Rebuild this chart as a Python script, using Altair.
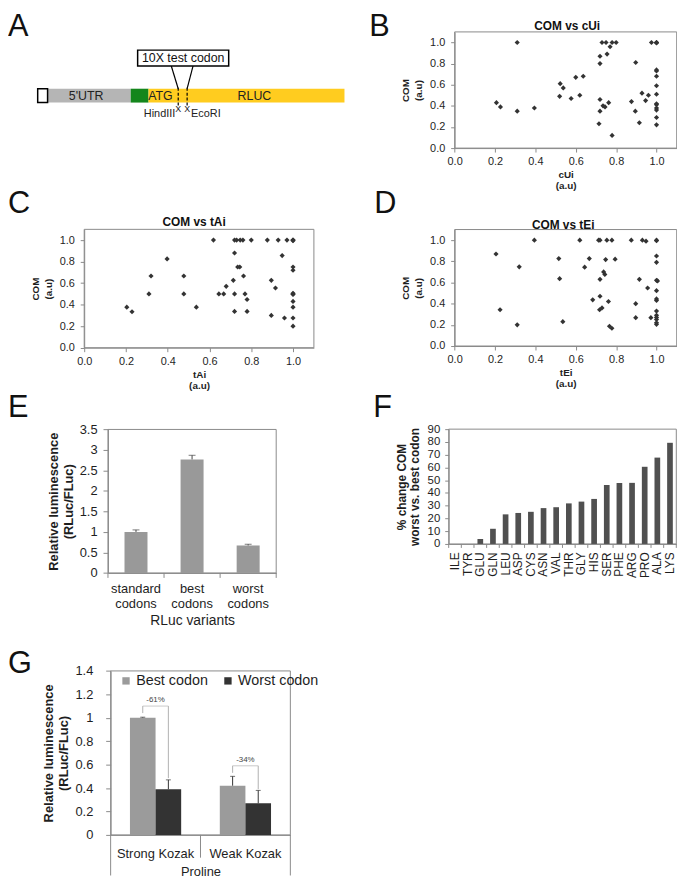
import altair as alt
import pandas as pd

FONT = "Liberation Sans"
INK = "#1e1e1e"
AX = "#8a8a8a"

# ===================== DATA =====================
# --- A: reporter construct schematic (units along the construct) ---
seg_names = ["promoter", "5'UTR", "Kozak", "RLUC"]
seg_start = [0, 10, 94, 112]
seg_end = [10, 94, 112, 310]
seg_labels = ["5'UTR", "ATG", "RLUC"]
seg_label_at = [49, 124, 219]
insert_label = ["10X test codon"]
insert_span = [101, 193]
insert_link_from = [135, 157]
site_names = ["HindIII", "EcoRI"]
site_at = [142, 151]

# --- B: COM vs cUi ---
cui = [0.31, 0.73, 0.75, 0.78, 0.80, 0.77, 0.72, 0.755, 0.72, 0.975, 1.0, 1.0,
       1.0, 0.897, 1.0, 1.0, 1.0, 1.0, 1.0, 1.0, 1.0, 1.0, 1.0, 1.0, 1.0,
       0.60, 0.637, 0.523, 0.538, 0.52, 0.577, 0.62, 0.207, 0.227, 0.31, 0.395,
       0.72, 0.763, 0.735, 0.745, 0.72, 0.715, 0.78, 0.876, 0.895, 0.928, 0.946,
       0.96, 0.915]
com_cui = [1.0, 1.0, 1.0, 1.0, 1.0, 0.96, 0.87, 0.89, 0.80, 1.0, 1.0, 1.0,
           0.995, 0.81, 0.74, 0.73, 0.68, 0.59, 0.51, 0.42, 0.41, 0.38, 0.36, 0.29, 0.22,
           0.67, 0.68, 0.61, 0.57, 0.49, 0.47, 0.50, 0.43, 0.39, 0.35, 0.38,
           0.46, 0.43, 0.40, 0.39, 0.35, 0.23, 0.12, 0.44, 0.35, 0.52, 0.45,
           0.50, 0.24]

# --- C: COM vs tAi ---
tai = [0.204, 0.229, 0.31, 0.32, 0.397, 0.477, 0.477, 0.537, 0.619, 0.645,
       0.668, 0.68, 0.72, 0.73, 0.747, 0.76, 0.80, 0.877, 0.929, 0.971,
       1.0, 1.0, 1.0, 0.72, 0.735, 0.745, 0.714, 0.763, 0.72, 0.77,
       0.78, 0.72, 0.78, 0.896, 0.916, 0.896, 0.948, 0.959, 1.0, 1.0,
       1.0, 1.0, 1.0, 1.0, 1.0, 1.0, 1.0]
com_tai = [0.377, 0.334, 0.5, 0.666, 0.825, 0.666, 0.5, 0.377, 1.0, 0.5,
           0.5, 0.57, 1.0, 1.0, 1.0, 1.0, 1.0, 1.0, 1.0, 1.0,
           1.0, 1.0, 0.995, 0.88, 0.75, 0.75, 0.626, 0.666, 0.5, 0.5,
           0.448, 0.337, 0.337, 0.626, 0.555, 0.30, 0.856, 0.276, 0.75, 0.72,
           0.5, 0.495, 0.43, 0.377, 0.276, 0.2, 0.505]

# --- D: COM vs tEi ---
tei = [0.205, 0.225, 0.32, 0.31, 0.395, 0.516, 0.52, 0.536, 0.62, 0.644,
       0.667, 0.684, 0.713, 0.72, 0.754, 0.779, 0.72, 0.72, 0.718, 0.73,
       0.738, 0.744, 0.748, 0.762, 0.767, 0.779, 0.795, 0.875, 0.93, 0.948,
       0.915, 0.897, 0.897, 0.956, 0.972, 1.0, 1.0, 1.0, 1.0, 1.0,
       1.005, 1.0, 1.0, 1.0, 1.0, 1.0, 1.0, 1.0, 1.0, 1.0]
com_tei = [0.869, 0.343, 0.748, 0.20, 1.0, 0.826, 0.636, 0.23, 1.0, 0.745,
           0.826, 0.436, 1.0, 1.0, 1.0, 1.0, 0.63, 0.47, 0.343, 0.36,
           0.70, 0.676, 0.816, 0.42, 0.187, 0.168, 0.82, 1.0, 1.0, 0.99,
           0.63, 0.40, 0.268, 0.548, 0.268, 1.0, 0.995, 0.85, 0.79, 0.62,
           0.615, 0.523, 0.445, 0.43, 0.33, 0.29, 0.27, 0.25, 0.22, 0.205]

# --- E: RLuc variants ---
variants = ["standard codons", "best codons", "worst codons"]
lum = [1.0, 2.77, 0.67]
lum_err = [0.05, 0.10, 0.03]

# --- F: % change COM worst vs best codon ---
amino_acids = ["ILE", "TYR", "GLU", "GLN", "LEU", "ASP", "CYS", "ASN", "VAL",
               "THR", "GLY", "HIS", "SER", "PHE", "ARG", "PRO", "ALA", "LYS"]
pct_change = [0, 0, 3.9, 11.9, 23.2, 24.3, 25.2, 28.1, 28.8,
              31.8, 33.2, 35.3, 46.2, 47.8, 47.9, 60.5, 67.7, 79.3]

# --- G: Proline, Kozak context ---
kozak = ["Strong Kozak", "Weak Kozak"]
codon_sets = ["Best codon", "Worst codon"]
best_mean = [1.0, 0.42]
best_err = [0.005, 0.08]
worst_mean = [0.39, 0.27]
worst_err = [0.08, 0.11]
change_labels = ["-61%", "-34%"]
bracket_top = [1.10, 0.59]
bracket_best_foot = [1.04, 0.53]
bracket_worst_foot = [0.485, 0.39]

# ===================== LAYOUT =====================
W, H = 676, 872


def c(v):  # page pixel -> chart pixel (8px page margin)
    return v - 8.0


BOX = {  # left, right, top, bottom (chart px)
    "B": (c(459.3), c(683.7), c(27.6), c(145.0)),
    "C": (c(85.0), c(317.1), c(227.1), c(346.7)),
    "D": (c(459.3), c(683.7), c(227.3), c(345.0)),
    "E": (c(109.0), c(279.0), c(429.3), c(574.3)),
    "F": (c(453.3), c(683.3), c(429.0), c(545.0)),
    "G": (c(111.7), c(293.3), c(673.3), c(839.0)),
}
DIAG = dict(xdom=[0, 310], xr=[c(38), c(348)], ydom=[0, 80], yr=[c(118), c(38)],
            bar=(19, 33), box=(56, 72), site_line=(16, 35), site_mark=12,
            site_name=7.5, label_y=26)
LETTERS = [("A", 0, 24), ("B", 365, 24), ("C", 0, 203), ("D", 370, 203),
           ("E", 0, 409), ("F", 369, 409), ("G", 0, 667)]
TITLES = [("COM vs cUi", 565, BOX["B"][2] - 1.5),
          ("COM vs tAi", 188, BOX["C"][2] - 3),
          ("COM vs tEi", 561, BOX["D"][2] - 1)]

ONE = pd.DataFrame({"k": [0]})


def xaxis(key, **kw):
    return alt.Axis(orient="bottom", offset=-(H - BOX[key][3]), **kw)


def yaxis(key, **kw):
    return alt.Axis(orient="left", offset=-BOX[key][0], **kw)


def frame(key):
    x0, x1, y0, y1 = BOX[key]
    return alt.Chart(ONE).mark_rect(fillOpacity=0, stroke=AX, strokeWidth=1).encode(
        x=alt.value(x0), x2=alt.value(x1), y=alt.value(y0), y2=alt.value(y1))


# ===================== PANEL A =====================
dx = alt.Scale(domain=DIAG["xdom"], range=DIAG["xr"], nice=False, zero=False)
dy = alt.Scale(domain=DIAG["ydom"], range=DIAG["yr"], nice=False, zero=False)
seg_df = pd.DataFrame({"name": seg_names, "s": seg_start, "e": seg_end})
seg_df["lo"], seg_df["hi"] = DIAG["bar"]
segs = alt.Chart(seg_df).mark_rect().encode(
    x=alt.X("s:Q", scale=dx, axis=None), x2="e:Q",
    y=alt.Y("lo:Q", scale=dy, axis=None), y2="hi:Q",
    color=alt.Color("name:N", scale=alt.Scale(domain=seg_names,
                    range=["#ffffff", "#b5b5b5", "#14861c", "#ffcc1f"]), legend=None))
prom = alt.Chart(seg_df).transform_filter("datum.name == 'promoter'").mark_rect(
    fillOpacity=0, stroke="black", strokeWidth=1.5).encode(
    x=alt.X("s:Q", scale=dx, axis=None), x2="e:Q",
    y=alt.Y("lo:Q", scale=dy, axis=None), y2="hi:Q")
lab_df = pd.DataFrame({"t": seg_labels, "x": seg_label_at})
lab_df["y"] = DIAG["label_y"]
seg_text = alt.Chart(lab_df).mark_text(fontSize=12.5, color="#222").encode(
    x=alt.X("x:Q", scale=dx, axis=None), y=alt.Y("y:Q", scale=dy, axis=None), text="t:N")
ins_df = pd.DataFrame({"t": insert_label, "s": [insert_span[0]], "e": [insert_span[1]]})
ins_df["lo"], ins_df["hi"] = DIAG["box"]
ins_df["mid"] = (ins_df.s + ins_df.e) / 2
ins_df["ym"] = sum(DIAG["box"]) / 2
ins_box = alt.Chart(ins_df).mark_rect(fill="white", stroke="black", strokeWidth=1.5).encode(
    x=alt.X("s:Q", scale=dx, axis=None), x2="e:Q",
    y=alt.Y("lo:Q", scale=dy, axis=None), y2="hi:Q")
ins_text = alt.Chart(ins_df).mark_text(fontSize=12.5, color="#111").encode(
    x=alt.X("mid:Q", scale=dx, axis=None), y=alt.Y("ym:Q", scale=dy, axis=None), text="t:N")
link_df = pd.DataFrame({"x": insert_link_from, "x2": site_at})
link_df["y"] = DIAG["box"][0]
link_df["y2"] = DIAG["bar"][1]
links = alt.Chart(link_df).mark_rule(color="black", strokeWidth=1.2).encode(
    x=alt.X("x:Q", scale=dx, axis=None), x2="x2:Q",
    y=alt.Y("y:Q", scale=dy, axis=None), y2="y2:Q")
site_df = pd.DataFrame({"name": site_names, "x": site_at})
site_df["lo"], site_df["hi"] = DIAG["site_line"]
site_df["ym"] = DIAG["site_mark"]
site_df["yn"] = DIAG["site_name"]
site_df["mark"] = "X"
site_lines = alt.Chart(site_df).mark_rule(color="black", strokeWidth=1.2, strokeDash=[3, 2]).encode(
    x=alt.X("x:Q", scale=dx, axis=None), y=alt.Y("lo:Q", scale=dy, axis=None), y2="hi:Q")
site_x = alt.Chart(site_df).mark_text(fontSize=9, color="#222").encode(
    x=alt.X("x:Q", scale=dx, axis=None), y=alt.Y("ym:Q", scale=dy, axis=None), text="mark:N")
hind = alt.Chart(site_df).transform_filter("datum.name == 'HindIII'").mark_text(
    fontSize=11, align="right", dx=-3, color="#222").encode(
    x=alt.X("x:Q", scale=dx, axis=None), y=alt.Y("yn:Q", scale=dy, axis=None), text="name:N")
eco = alt.Chart(site_df).transform_filter("datum.name == 'EcoRI'").mark_text(
    fontSize=11, align="left", dx=4, color="#222").encode(
    x=alt.X("x:Q", scale=dx, axis=None), y=alt.Y("yn:Q", scale=dy, axis=None), text="name:N")
panel_a = alt.layer(segs, prom, seg_text, links, site_lines, ins_box, ins_text, site_x, hind, eco)

# ===================== SCATTERS =====================
SCAT_TICKS = [0, 0.2, 0.4, 0.6, 0.8, 1.0]


def scatter(xv, yv, xname, key):
    x0, x1, y0, y1 = BOX[key]
    df = pd.DataFrame({"x": xv, "y": yv})
    pts = alt.Chart(df).mark_point(shape="diamond", filled=True, size=27,
                                   color="#333333", opacity=1).encode(
        x=alt.X("x:Q", scale=alt.Scale(domain=[0, 1.1], range=[x0, x1], nice=False, zero=False),
                axis=xaxis(key, values=SCAT_TICKS, format=".1f", title=[xname, "(a.u)"],
                           labelFontSize=11, titleFontSize=10, titleLineHeight=11,
                           tickSize=4, labelPadding=4, titlePadding=3)),
        y=alt.Y("y:Q", scale=alt.Scale(domain=[0, 1.1], range=[y1, y0], nice=False, zero=False),
                axis=yaxis(key, values=SCAT_TICKS, format=".1f", title=["COM", "(a.u)"],
                           labelFontSize=11, titleFontSize=10, titleLineHeight=13,
                           tickSize=4, labelPadding=6, titlePadding=6)))
    return alt.layer(frame(key), pts)


panel_b = scatter(cui, com_cui, "cUi", "B")
panel_c = scatter(tai, com_tai, "tAi", "C")
panel_d = scatter(tei, com_tei, "tEi", "D")


def boundary_ticks(key, n, lengths):
    x0, x1, y0, y1 = BOX[key]
    df = pd.DataFrame({"i": list(range(n + 1))})
    df["len"] = lengths
    df["y1"] = y1
    df["y2"] = y1 + df["len"]
    return alt.Chart(df).mark_rule(color=AX, strokeWidth=1).encode(
        x=alt.X("i:Q", scale=alt.Scale(domain=[0, n], range=[x0, x1], nice=False, zero=False), axis=None),
        y=alt.Y("y1:Q", scale=None, axis=None), y2="y2:Q")


# ===================== PANEL E =====================
def panel_e():
    key = "E"
    x0, x1, y0, y1 = BOX[key]
    df = pd.DataFrame({"v": variants, "m": lum, "err": lum_err})
    df["top"] = df.m + df.err
    xs = alt.Scale(domain=variants, range=[x0, x1], paddingInner=0.59, paddingOuter=0.295)
    ys = alt.Scale(domain=[0, 3.5], range=[y1, y0], nice=False, zero=False)
    ax_x = xaxis(key, title="RLuc variants", labelExpr="split(datum.label, ' ')",
                 labelAngle=0, labelFontSize=13, labelLineHeight=15, ticks=False,
                 tickSize=0, labelPadding=10, titleFontSize=14,
                 titleFontWeight="normal", titlePadding=3)
    ax_y = yaxis(key, values=[0, 0.5, 1, 1.5, 2, 2.5, 3, 3.5], format="~g",
                 title=["Relative luminescence", "(RLuc/FLuc)"], labelFontSize=13,
                 titleFontSize=13, titleLineHeight=15, tickSize=5, labelPadding=6,
                 titlePadding=4)
    X = alt.X("v:N", scale=xs, sort=variants, axis=ax_x)
    bars = alt.Chart(df).mark_bar(color="#999999").encode(
        x=X, y=alt.Y("m:Q", scale=ys, axis=ax_y))
    err = alt.Chart(df).mark_rule(color="#444", strokeWidth=1).encode(
        x=X, y=alt.Y("m:Q", scale=ys, axis=ax_y), y2="top:Q")
    cap = alt.Chart(df).mark_tick(color="#444", size=7, thickness=1).encode(
        x=X, y=alt.Y("top:Q", scale=ys, axis=ax_y))
    return alt.layer(frame(key), bars, err, cap)


# ===================== PANEL F =====================
def panel_f():
    key = "F"
    x0, x1, y0, y1 = BOX[key]
    df = pd.DataFrame({"aa": amino_acids, "p": pct_change})
    xs = alt.Scale(domain=amino_acids, range=[x0, x1], paddingInner=0.55, paddingOuter=0.275)
    ys = alt.Scale(domain=[0, 90], range=[y1, y0], nice=False, zero=False)
    bars = alt.Chart(df).mark_bar(color="#505050").encode(
        x=alt.X("aa:N", scale=xs, sort=amino_acids,
                axis=xaxis(key, title=None, labelAngle=270, labelFontSize=12, ticks=False,
                           tickSize=0, labelPadding=8)),
        y=alt.Y("p:Q", scale=ys,
                axis=yaxis(key, values=list(range(0, 91, 10)), format="d",
                           title=["% change COM", "worst vs. best codon"], labelFontSize=11.5,
                           titleFontSize=12, titleLineHeight=13, tickSize=4, labelPadding=5,
                           titlePadding=6)))
    return alt.layer(frame(key), bars)


# ===================== PANEL G =====================
def panel_g():
    key = "G"
    x0, x1, y0, y1 = BOX[key]
    rows = []
    for i, k in enumerate(kozak):
        rows.append((k, codon_sets[0], best_mean[i], best_err[i]))
        rows.append((k, codon_sets[1], worst_mean[i], worst_err[i]))
    df = pd.DataFrame(rows, columns=["k", "s", "m", "err"])
    df["top"] = df.m + df.err
    pin, pout = 0.43, 0.215
    xs = alt.Scale(domain=kozak, range=[x0, x1], paddingInner=pin, paddingOuter=pout)
    ys = alt.Scale(domain=[0, 1.4], range=[y1, y0], nice=False, zero=False)
    step = (x1 - x0) / (len(kozak) - pin + 2 * pout)
    bw = step * (1 - pin)
    ax_x = xaxis(key, title="Proline", labelAngle=0, labelFontSize=13, ticks=False,
                 tickSize=0, labelPadding=13, titleFontSize=13,
                 titleFontWeight="normal", titlePadding=5)
    ax_y = yaxis(key, values=[0, 0.2, 0.4, 0.6, 0.8, 1, 1.2, 1.4], format="~g",
                 title=["Relative luminescence", "(RLuc/FLuc)"], labelFontSize=13,
                 titleFontSize=13, titleLineHeight=15, tickSize=5, labelPadding=13,
                 titlePadding=5)
    X = alt.X("k:N", scale=xs, sort=kozak, axis=ax_x)
    XO = alt.XOffset("s:N", sort=codon_sets, scale=alt.Scale(domain=codon_sets))
    bars = alt.Chart(df).mark_bar().encode(
        x=X, xOffset=XO,
        y=alt.Y("m:Q", scale=ys, axis=ax_y),
        color=alt.Color("s:N", scale=alt.Scale(domain=codon_sets, range=["#9b9b9b", "#333333"]),
                        legend=alt.Legend(orient="none", legendX=c(120), legendY=c(676),
                                          direction="horizontal", title=None, symbolType="square",
                                          symbolSize=55, symbolStrokeWidth=0, labelFontSize=14.5,
                                          labelFont=FONT, labelColor=INK, columnPadding=12,
                                          labelOffset=3, padding=0)))
    err = alt.Chart(df).mark_rule(color="#333", strokeWidth=1).encode(
        x=X, xOffset=XO, y=alt.Y("m:Q", scale=ys, axis=ax_y), y2="top:Q")
    cap = alt.Chart(df).mark_tick(color="#333", size=5, thickness=1).encode(
        x=X, xOffset=XO, y=alt.Y("top:Q", scale=ys, axis=ax_y))
    legs = []
    for i, k in enumerate(kozak):
        legs.append((k, codon_sets[0], bracket_best_foot[i], bracket_top[i]))
        legs.append((k, codon_sets[1], bracket_worst_foot[i], bracket_top[i]))
    legs_df = pd.DataFrame(legs, columns=["k", "s", "lo", "hi"])
    leg = alt.Chart(legs_df).mark_rule(color="#b0b0b0", strokeWidth=1).encode(
        x=X, xOffset=XO, y=alt.Y("lo:Q", scale=ys, axis=ax_y), y2="hi:Q")
    br_df = pd.DataFrame({"k": kozak, "top": bracket_top, "t": change_labels})
    bar_top = alt.Chart(br_df).mark_tick(color="#b0b0b0", size=bw / 2, thickness=1).encode(
        x=X, y=alt.Y("top:Q", scale=ys, axis=ax_y))
    br_txt = alt.Chart(br_df).mark_text(fontSize=8, dy=-6, color="#444444").encode(
        x=X, y=alt.Y("top:Q", scale=ys, axis=ax_y), text="t:N")
    return alt.layer(frame(key), bars, err, cap, leg, bar_top, br_txt)


# ===================== ANNOTATIONS =====================
let_df = pd.DataFrame(LETTERS, columns=["t", "x", "y"])
letters = alt.Chart(let_df).mark_text(fontSize=31, align="left", baseline="alphabetic",
                                      color="#111").encode(
    x=alt.X("x:Q", scale=None, axis=None), y=alt.Y("y:Q", scale=None, axis=None), text="t:N")
tit_df = pd.DataFrame(TITLES, columns=["t", "x", "y"])
titles = alt.Chart(tit_df).mark_text(fontSize=12, fontWeight="bold", baseline="alphabetic",
                                     color="#111").encode(
    x=alt.X("x:Q", scale=None, axis=None), y=alt.Y("y:Q", scale=None, axis=None), text="t:N")

chart = alt.layer(
    letters, titles, panel_a, panel_b, panel_c, panel_d,
    panel_e(), boundary_ticks("E", len(variants), [5] * (len(variants) + 1)),
    panel_f(), boundary_ticks("F", len(amino_acids), [4] * (len(amino_acids) + 1)),
    panel_g(), boundary_ticks("G", len(kozak), [H - BOX["G"][3], 23, H - BOX["G"][3]]),
).resolve_scale(
    x="independent", y="independent", color="independent", xOffset="independent"
).resolve_axis(x="independent", y="independent").resolve_legend(color="independent").properties(
    width=W, height=H, autosize=alt.AutoSizeParams(type="none"), padding=0
).configure_view(stroke=None).configure_axis(
    grid=False, domainColor=AX, tickColor=AX, labelColor=INK, titleColor=INK,
    labelFont=FONT, titleFont=FONT, labelFlush=False, labelOverlap=False
).configure_text(font=FONT)

chart.save("out.html", embed_options={"renderer": "svg", "actions": False})
